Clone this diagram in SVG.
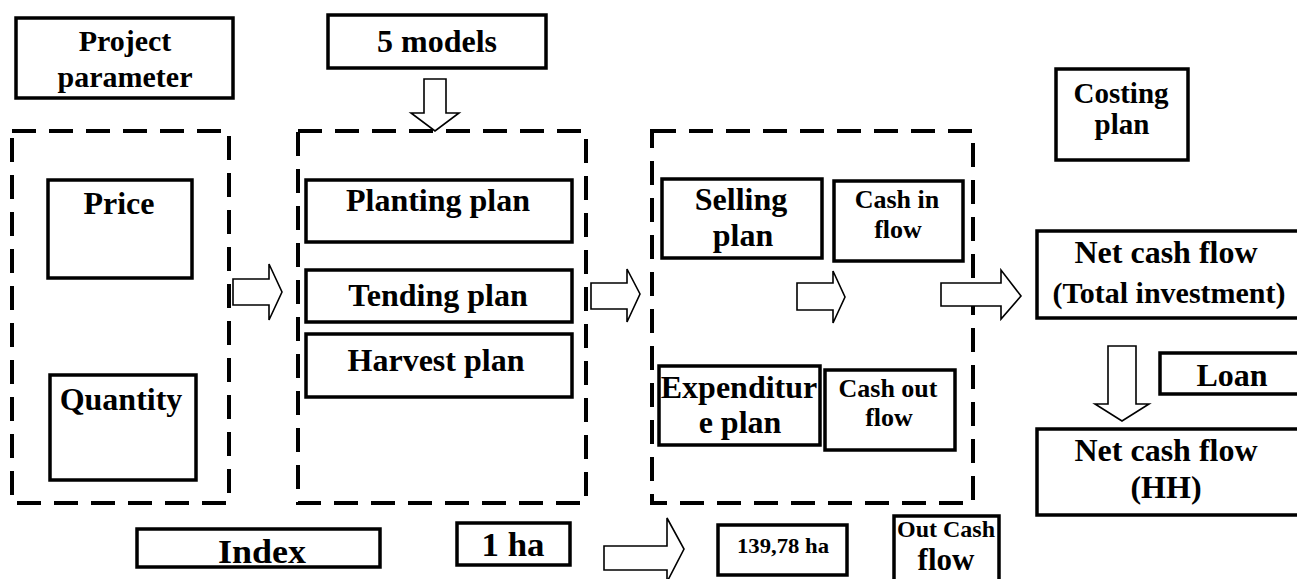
<svg xmlns="http://www.w3.org/2000/svg" width="1297" height="579" viewBox="0 0 1297 579">
<style>
.box{fill:#fff;stroke:#000;stroke-width:3.5}
.dash{fill:none;stroke:#000;stroke-width:4;stroke-dasharray:24 13}
.arr{fill:#fff;stroke:#000;stroke-width:1.6;stroke-linejoin:miter}
text{font-family:"Liberation Serif","Times New Roman",serif;font-weight:bold;fill:#000;text-anchor:middle}
.t32{font-size:32px}
.t26{font-size:26px}
</style>
<rect width="1297" height="579" fill="#fff"/>
<g id="group-params"><rect class="dash" x="12" y="131" width="217" height="372"/></g>
<g id="group-plans"><rect class="dash" x="298" y="131" width="288" height="372"/></g>
<g id="group-cash"><rect class="dash" x="652" y="131" width="321" height="372"/></g>

<g id="project-parameter"><rect class="box" x="16" y="18" width="217" height="80"/><text style="font-size:30px" x="125" y="51">Project</text><text style="font-size:30px" x="125" y="87">parameter</text></g>
<g id="five-models"><rect class="box" x="328" y="15" width="218" height="53"/><text class="t32" x="437" y="52">5 models</text></g>
<g id="price"><rect class="box" x="48" y="180" width="144" height="98"/><text class="t32" x="119" y="214">Price</text></g>
<g id="quantity"><rect class="box" x="50" y="375" width="146" height="105"/><text class="t32" x="121" y="410">Quantity</text></g>
<g id="planting-plan"><rect class="box" x="306" y="180" width="266" height="62"/><text class="t32" x="438" y="211">Planting plan</text></g>
<g id="tending-plan"><rect class="box" x="306" y="270" width="266" height="52"/><text class="t32" x="438" y="306">Tending plan</text></g>
<g id="harvest-plan"><rect class="box" x="306" y="334" width="266" height="63"/><text class="t32" x="436" y="371">Harvest plan</text></g>
<g id="selling-plan"><rect class="box" x="662" y="179" width="160" height="79"/><text class="t32" x="741" y="210">Selling</text><text class="t32" x="743" y="246">plan</text></g>
<g id="cash-in-flow"><rect class="box" x="834" y="181" width="129" height="80"/><text class="t26" x="897" y="208">Cash in</text><text class="t26" x="898" y="238">flow</text></g>
<g id="expenditure-plan"><rect class="box" x="659" y="366" width="161" height="79"/><text class="t32" x="739" y="398">Expenditur</text><text class="t32" x="740" y="433">e plan</text></g>
<g id="cash-out-flow"><rect class="box" x="825" y="370" width="130" height="80"/><text class="t26" x="888" y="397">Cash out</text><text class="t26" x="889" y="426">flow</text></g>
<g id="costing-plan"><rect class="box" x="1056" y="69" width="132" height="91"/><text style="font-size:29px" x="1121" y="103">Costing</text><text style="font-size:29px" x="1122" y="134">plan</text></g>
<g id="net-cash-flow-total"><rect class="box" x="1037" y="231" width="270" height="87"/><text class="t32" x="1166" y="263">Net cash flow</text><text style="font-size:30px" x="1169" y="303">(Total investment)</text></g>
<g id="loan"><rect class="box" x="1160" y="353" width="147" height="41"/><text class="t32" x="1232" y="386">Loan</text></g>
<g id="net-cash-flow-hh"><rect class="box" x="1037" y="429" width="270" height="86"/><text class="t32" x="1166" y="461">Net cash flow</text><text class="t32" x="1166" y="498">(HH)</text></g>
<g id="index"><rect class="box" x="137" y="529" width="243" height="38"/><text x="262" y="563" style="font-size:34px" textLength="88" lengthAdjust="spacingAndGlyphs">Index</text></g>
<g id="one-ha"><rect class="box" x="457" y="523" width="113" height="42"/><text x="513" y="556" style="font-size:34px" textLength="63" lengthAdjust="spacingAndGlyphs">1 ha</text></g>
<g id="ha-13978"><rect class="box" x="718" y="525" width="129" height="50"/><text x="783" y="553" style="font-size:22px" textLength="92" lengthAdjust="spacingAndGlyphs">139,78 ha</text></g>
<g id="out-cash-flow"><rect class="box" x="894" y="516" width="105" height="70"/><text x="946" y="537" style="font-size:24px" textLength="98" lengthAdjust="spacingAndGlyphs">Out Cash</text><text x="946" y="570" style="font-size:31px">flow</text></g>

<g id="connectors">
<polygon class="arr" points="424,79 446,79 446,113 459,113 435,131 411,113 424,113"/>
<polygon class="arr" points="233,279 269,279 269,264 282,292 269,320 269,305 233,305"/>
<polygon class="arr" points="591,283 627,283 627,269 640,294 627,322 627,309 591,309"/>
<polygon class="arr" points="797,283 833,283 833,271 845,297 833,323 833,310 797,310"/>
<polygon class="arr" points="941,283 1001,283 1001,270 1021,296 1001,319 1001,306 941,306"/>
<polygon class="arr" points="1108,346 1136,346 1136,404 1149,404 1122,421 1095,404 1108,404"/>
<polygon class="arr" points="604,546 667,546 667,518 684,549 667,582 667,570 604,570"/>
</g>
</svg>
